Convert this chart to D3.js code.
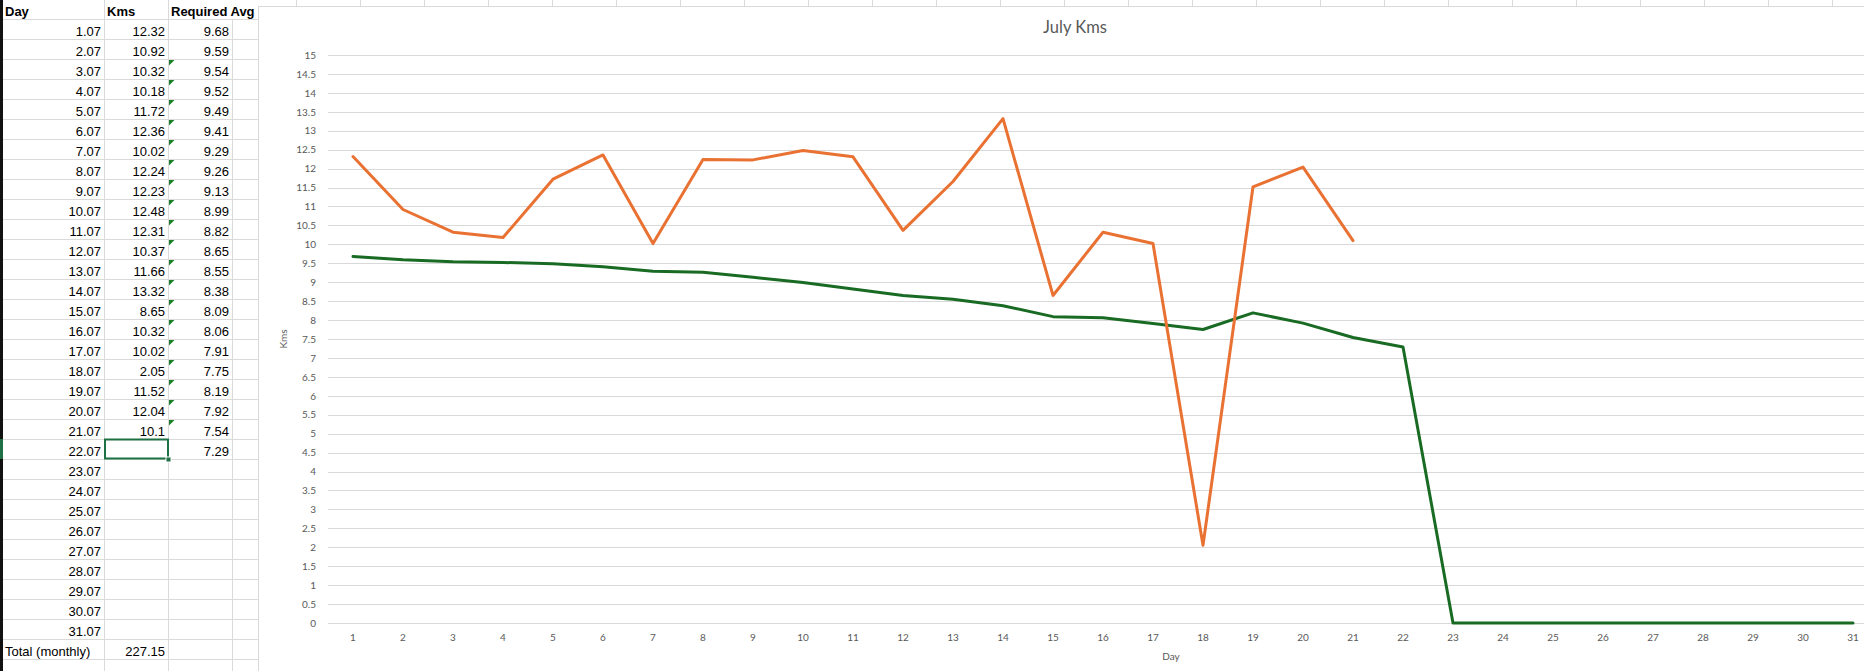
<!DOCTYPE html>
<html>
<head>
<meta charset="utf-8">
<script src="https://cdn.jsdelivr.net/npm/d3@7"></script>
<style>
  body { margin: 0; background: #fff; }
  svg { display: block; }
  .cell { font-family: "Liberation Sans", Arial, sans-serif; font-size: 13px; fill: #000; }
  .head { font-weight: bold; }
  .axis text { font-family: Lato, "Open Sans", sans-serif; font-size: 10px; fill: #595959; }
</style>
</head>
<body>
<svg id="sheet"></svg>
<script>
// sheet values (day of July, kms run, required average)
const days = d3.range(1, 32);
const kms = [12.32, 10.92, 10.32, 10.18, 11.72, 12.36, 10.02, 12.24, 12.23, 12.48,
             12.31, 10.37, 11.66, 13.32, 8.65, 10.32, 10.02, 2.05, 11.52, 12.04, 10.1];
const requiredAvg = [9.68, 9.59, 9.54, 9.52, 9.49, 9.41, 9.29, 9.26, 9.13, 8.99,
                     8.82, 8.65, 8.55, 8.38, 8.09, 8.06, 7.91, 7.75, 8.19, 7.92,
                     7.54, 7.29, "", "", "", "", "", "", "", "", ""];
const headers = ["Day", "Kms", "Required Avg"];
const yTicks = d3.range(0, 15.5, 0.5);
const flaggedRows = d3.range(3, 22); // cells with the little green error flag

const W = 1864, H = 671;
const rowH = 20, headH = 19;
const colEdges = [104, 168, 232];
const colW = 64;

const svg = d3.select('#sheet').attr('width', W).attr('height', H);

// ---- spreadsheet grid ----
const grid = svg.append('g').attr('stroke', '#dadada').attr('shape-rendering', 'crispEdges');
const rowLines = d3.range(0, 34).map(i => headH + i * rowH);
grid.selectAll('.hl').data(rowLines).join('line')
    .attr('x1', 3).attr('x2', W)
    .attr('y1', d => d + 0.5).attr('y2', d => d + 0.5);
const vLines = d3.range(colEdges[0], W, colW);
grid.selectAll('.vl').data(vLines).join('line')
    .attr('x1', d => d + 0.5).attr('x2', d => d + 0.5)
    .attr('y1', d => d === 232 ? headH : 0).attr('y2', H);

svg.append('rect').attr('x', 0).attr('y', 0).attr('width', 3).attr('height', H).attr('fill', '#111');
svg.append('rect').attr('x', 0).attr('y', headH + 21 * rowH).attr('width', 3).attr('height', rowH).attr('fill', '#1e7145');

const baseline = i => headH + i * rowH - 3.5;   // i = 1 for first data row

svg.selectAll('.hd').data(headers).join('text')
    .attr('class', 'cell head')
    .attr('x', (d, i) => [5, 107, 171][i])
    .attr('y', headH - 3)
    .text(d => d);

const rows = days.map((d, i) => ({ day: d, kms: kms[i], req: requiredAvg[i] }));
const rowG = svg.selectAll('.row').data(rows).join('g')
    .attr('transform', (d, i) => `translate(0,${baseline(i + 1)})`);
rowG.append('text').attr('class', 'cell').attr('text-anchor', 'end').attr('x', 101)
    .text(d => `${d.day}.07`);
rowG.append('text').attr('class', 'cell').attr('text-anchor', 'end').attr('x', 165)
    .text(d => d.kms === undefined ? '' : String(d.kms));
rowG.append('text').attr('class', 'cell').attr('text-anchor', 'end').attr('x', 229)
    .text(d => d.req === '' ? '' : d.req.toFixed(2));

svg.append('text').attr('class', 'cell').attr('x', 5).attr('y', baseline(32)).text('Total (monthly)');
svg.append('text').attr('class', 'cell').attr('text-anchor', 'end').attr('x', 165).attr('y', baseline(32))
    .text(d3.format('.2f')(d3.sum(kms)));

// green error flags
svg.selectAll('.flag').data(flaggedRows).join('path')
    .attr('fill', '#1b7f2a')
    .attr('d', r => {
        const t = headH + (r - 1) * rowH + 1;
        return `M169,${t}L174.5,${t}L169,${t + 5.5}Z`;
    });

// selected cell B22
const selTop = headH + 21 * rowH;
svg.append('rect').attr('x', 105).attr('y', selTop + 0.5).attr('width', 63).attr('height', 19)
    .attr('fill', 'none').attr('stroke', '#1e7145').attr('stroke-width', 2);
svg.append('rect').attr('x', 166).attr('y', selTop + 18).attr('width', 5).attr('height', 5)
    .attr('fill', '#1e7145').attr('stroke', '#fff').attr('stroke-width', 1);

// ---- chart ----
const chartBox = { x: 258, y: 6, w: 1640, h: 700 };
svg.append('rect')
    .attr('x', chartBox.x + 0.5).attr('y', chartBox.y + 0.5)
    .attr('width', chartBox.w).attr('height', chartBox.h)
    .attr('fill', '#fff').attr('stroke', '#d9d9d9');

const plot = { left: 328, top: 55, bottom: 623 };
const x = d3.scaleBand().domain(days).range([plot.left, plot.left + days.length * 50]);
const y = d3.scaleLinear().domain([0, 15]).range([plot.bottom, plot.top]);
const cx = d => x(d) + x.bandwidth() / 2;

svg.append('g')
    .attr('transform', `translate(${plot.left},0)`)
    .call(d3.axisLeft(y).tickValues(yTicks).tickSize(-(x.range()[1] - plot.left)).tickFormat(''))
    .call(g => g.select('.domain').remove())
    .call(g => g.selectAll('line').attr('stroke', '#d9d9d9').attr('shape-rendering', 'crispEdges'));

svg.append('g').attr('class', 'axis')
    .attr('transform', `translate(${plot.left},0)`)
    .call(d3.axisLeft(y).tickValues(yTicks).tickSize(0).tickPadding(12).tickFormat(d3.format('')))
    .call(g => g.select('.domain').remove());

svg.append('g').attr('class', 'axis')
    .attr('transform', `translate(0,${plot.bottom})`)
    .call(d3.axisBottom(x).tickSize(0).tickPadding(11))
    .call(g => g.select('.domain').remove());

svg.append('text').attr('x', 1075).attr('y', 33).attr('text-anchor', 'middle')
    .attr('font-family', 'Lato, sans-serif').attr('font-size', 16.5).attr('fill', '#595959')
    .text('July Kms');
svg.append('text').attr('class', 'axis').attr('x', 1171).attr('y', 660).attr('text-anchor', 'middle')
    .attr('font-family', 'Lato, sans-serif').attr('font-size', 10).attr('fill', '#595959')
    .text('Day');
svg.append('text').attr('transform', `translate(287,${(plot.top + plot.bottom) / 2}) rotate(-90)`)
    .attr('text-anchor', 'middle')
    .attr('font-family', 'Lato, sans-serif').attr('font-size', 10).attr('fill', '#595959')
    .text('Kms');

const line = d3.line()
    .defined(d => d.v !== undefined)
    .x(d => cx(d.day))
    .y(d => y(d.v));

// blank Kms cells leave a gap; "" from the formula plots as zero
const kmsSeries = days.map((d, i) => ({ day: d, v: kms[i] }));
const reqSeries = days.map((d, i) => ({ day: d, v: requiredAvg[i] === '' ? 0 : requiredAvg[i] }));

svg.append('path').datum(reqSeries)
    .attr('fill', 'none').attr('stroke', '#196b24').attr('stroke-width', 3)
    .attr('stroke-linejoin', 'round').attr('stroke-linecap', 'round')
    .attr('d', line);
svg.append('path').datum(kmsSeries)
    .attr('fill', 'none').attr('stroke', '#e97132').attr('stroke-width', 3)
    .attr('stroke-linejoin', 'round').attr('stroke-linecap', 'round')
    .attr('d', line);
</script>
</body>
</html>
